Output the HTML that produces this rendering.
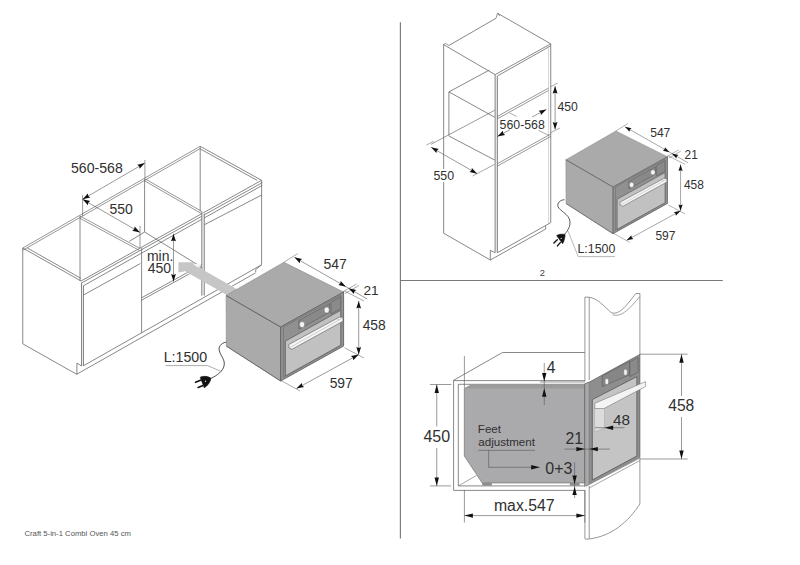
<!DOCTYPE html>
<html><head><meta charset="utf-8"><style>
html,body{margin:0;padding:0;background:#fff;width:800px;height:565px;overflow:hidden}
svg{display:block}
text{font-family:"Liberation Sans",sans-serif}
</style></head><body>
<svg width="800" height="565" viewBox="0 0 800 565">
<path d="M400.40,22.30 L400.40,538.50" stroke="#7a7a7a" stroke-width="1.15" fill="none" />
<path d="M400.40,280.50 L722.80,280.50" stroke="#7a7a7a" stroke-width="1.15" fill="none" />
<text x="539.74" y="276.2" font-size="9.3" fill="#444" text-anchor="start" >2</text>
<text x="24.51" y="535.93" font-size="7.7" fill="#555" text-anchor="start" >Craft 5-in-1 Combi Oven 45 cm</text>
<path d="M22.75,248.00 L200.20,146.30" stroke="#6a6a6a" stroke-width="0.7" fill="none" />
<path d="M22.75,250.30 L200.20,148.60" stroke="#6a6a6a" stroke-width="0.7" fill="none" />
<path d="M80.00,216.00 L139.50,248.20" stroke="#6a6a6a" stroke-width="0.7" fill="none" />
<path d="M80.00,218.30 L139.50,250.50" stroke="#6a6a6a" stroke-width="0.7" fill="none" />
<path d="M144.60,178.60 L201.50,211.30" stroke="#6a6a6a" stroke-width="0.7" fill="none" />
<path d="M144.60,180.90 L201.50,213.60" stroke="#6a6a6a" stroke-width="0.7" fill="none" />
<path d="M22.75,248.00 L81.00,281.00" stroke="#6a6a6a" stroke-width="0.8" fill="none" />
<path d="M27.35,248.00 L81.00,278.40" stroke="#6a6a6a" stroke-width="0.8" fill="none" />
<path d="M200.20,146.30 L261.60,180.30" stroke="#6a6a6a" stroke-width="0.8" fill="none" />
<path d="M200.20,148.90 L257.00,180.30" stroke="#6a6a6a" stroke-width="0.8" fill="none" />
<path d="M81.00,281.00 L261.60,180.30" stroke="#6a6a6a" stroke-width="0.8" fill="none" />
<path d="M81.00,283.30 L262.40,182.60" stroke="#6a6a6a" stroke-width="0.8" fill="none" />
<path d="M83.00,286.00 L262.40,185.30" stroke="#6a6a6a" stroke-width="0.8" fill="none" />
<path d="M80.00,216.00 L80.00,281.00" stroke="#6a6a6a" stroke-width="0.8" fill="none" />
<path d="M200.20,146.30 L200.20,211.30" stroke="#6a6a6a" stroke-width="0.8" fill="none" />
<path d="M144.60,178.60 L144.60,232.00" stroke="#6a6a6a" stroke-width="0.8" fill="none" />
<path d="M144.60,232.00 L129.30,241.40" stroke="#6a6a6a" stroke-width="0.8" fill="none" />
<path d="M144.60,232.00 L202.10,267.50" stroke="#6a6a6a" stroke-width="0.8" fill="none" />
<path d="M22.75,248.00 L22.75,343.80 L76.90,374.40 L76.90,363.10 L81.50,366.00" stroke="#6a6a6a" stroke-width="0.8" fill="none" />
<path d="M81.50,283.00 L83.50,286.00 L83.50,366.00 L81.50,366.00Z" fill="#ececec" stroke="none" stroke-width="0.8"/>
<path d="M81.50,283.00 L81.50,366.00" stroke="#6a6a6a" stroke-width="0.8" fill="none" />
<path d="M83.50,286.00 L83.50,366.00" stroke="#6a6a6a" stroke-width="0.8" fill="none" />
<path d="M83.50,295.00 L140.40,263.50" stroke="#6a6a6a" stroke-width="0.8" fill="none" />
<path d="M83.50,365.74 L261.90,264.59" stroke="#6a6a6a" stroke-width="0.8" fill="none" />
<path d="M76.90,374.18 L255.70,272.81" stroke="#6a6a6a" stroke-width="0.8" fill="none" />
<path d="M141.60,248.20 L141.60,332.80" stroke="#6a6a6a" stroke-width="0.8" fill="none" />
<path d="M141.60,297.80 L202.00,264.50" stroke="#6a6a6a" stroke-width="0.8" fill="none" />
<path d="M141.60,300.20 L202.00,266.90" stroke="#6a6a6a" stroke-width="0.8" fill="none" />
<path d="M201.80,211.30 L204.30,213.50 L204.30,295.60 L201.80,295.60Z" fill="#ececec" stroke="none" stroke-width="0.8"/>
<path d="M201.80,211.30 L201.80,295.60" stroke="#6a6a6a" stroke-width="0.8" fill="none" />
<path d="M204.30,213.50 L204.30,295.60" stroke="#6a6a6a" stroke-width="0.8" fill="none" />
<path d="M204.30,224.75 L261.90,194.90" stroke="#6a6a6a" stroke-width="0.8" fill="none" />
<path d="M261.60,180.30 L261.60,264.00" stroke="#6a6a6a" stroke-width="0.8" fill="none" />
<path d="M255.70,269.60 L255.70,272.10" stroke="#6a6a6a" stroke-width="0.8" fill="none" />
<path d="M255.70,269.60 L261.90,264.50" stroke="#6a6a6a" stroke-width="0.8" fill="none" />
<path d="M178.40,262.20 L193.80,262.20 L193.80,264.50 L245.00,293.80 L240.00,302.60 L184.20,270.70 L184.20,271.50 L178.40,272.60Z" fill="#c6c6c6" stroke="none" stroke-width="0.8"/>
<path d="M194.30,264.30 L198.80,263.60 L201.50,266.30 L197.00,267.30Z" fill="#f4f4f4" stroke="none" stroke-width="0.8"/>
<path d="M82.60,199.30 L144.90,163.00" stroke="#555" stroke-width="0.6" fill="none" />
<path d="M82.60,199.30 L87.87,193.45 L88.30,195.98 L90.29,197.60Z" fill="#111" stroke="none" stroke-width="0.8"/>
<path d="M144.90,163.00 L139.63,168.85 L139.20,166.32 L137.21,164.70Z" fill="#111" stroke="none" stroke-width="0.8"/>
<path d="M82.60,195.00 L82.60,216.00" stroke="#555" stroke-width="0.6" fill="none" />
<path d="M144.90,160.00 L144.90,178.00" stroke="#555" stroke-width="0.6" fill="none" />
<path d="M82.60,199.30 L140.00,232.40" stroke="#555" stroke-width="0.6" fill="none" />
<path d="M82.60,199.30 L90.30,200.97 L88.32,202.60 L87.90,205.13Z" fill="#111" stroke="none" stroke-width="0.8"/>
<path d="M140.00,232.40 L132.30,230.73 L134.28,229.10 L134.70,226.57Z" fill="#111" stroke="none" stroke-width="0.8"/>
<path d="M140.00,226.00 L140.00,248.00" stroke="#555" stroke-width="0.6" fill="none" />
<path d="M173.50,233.80 L173.50,281.60" stroke="#555" stroke-width="0.6" fill="none" />
<path d="M173.50,233.80 L175.90,241.30 L173.50,240.40 L171.10,241.30Z" fill="#111" stroke="none" stroke-width="0.8"/>
<path d="M173.50,281.60 L171.10,274.10 L173.50,275.00 L175.90,274.10Z" fill="#111" stroke="none" stroke-width="0.8"/>
<text x="71.04" y="173.17" font-size="14.1" fill="#303030" text-anchor="start" >560-568</text>
<text x="109.44" y="213.87" font-size="14" fill="#303030" text-anchor="start" >550</text>
<text x="146.88" y="261" font-size="14" fill="#303030" text-anchor="start" >min.</text>
<text x="147.68" y="272.62" font-size="14" fill="#303030" text-anchor="start" >450</text>
<path d="M283.90,262.25 L343.60,292.00 L280.60,327.00 L226.10,295.50Z" fill="#aaaaaa" stroke="#8a8a8a" stroke-width="0.6" stroke-linejoin="round"/>
<path d="M226.10,295.50 L280.60,327.00 L280.60,381.00 L226.30,346.10Z" fill="#aaaaaa" stroke="#8a8a8a" stroke-width="0.6" stroke-linejoin="round"/>
<path d="M226.10,295.50 L280.60,327.00 M226.30,346.10 L280.60,381.00" stroke="#555" stroke-width="0.75" fill="none"/>
<path d="M280.60,327.00 L343.60,292.00 L343.60,346.00 L280.60,381.00Z" fill="#939393" stroke="#555" stroke-width="0.8" stroke-linejoin="round"/>
<path d="M283.44,327.05 L340.77,295.19 L340.77,345.41 L283.44,377.26Z" fill="#919191" stroke="#6a6a6a" stroke-width="0.6" stroke-linejoin="round"/>
<path d="M298.87,320.63 L329.74,303.48 L329.74,312.12 L298.87,329.27Z" fill="#898989" stroke="#5a5a5a" stroke-width="0.6" stroke-linejoin="round"/>
<path d="M331.00,302.24 L340.77,296.81 L340.77,308.69 L331.00,314.12Z" fill="#8a8a8a" stroke="#5a5a5a" stroke-width="0.6" stroke-linejoin="round"/>
<path d="M285.39,341.08 L340.77,310.31 L340.77,345.14 L285.39,375.91Z" fill="#c1c1c1" stroke="#5e5e5e" stroke-width="0.8" stroke-linejoin="round"/>
<path d="M288.79,344.59 L339.19,317.13 L342.97,317.19 L342.97,321.24 L291.94,349.32 L288.79,347.83Z" fill="#f4f4f4" stroke="#6a6a6a" stroke-width="0.7" stroke-linejoin="round"/>
<path d="M288.79,347.83 L291.94,346.35 L342.97,317.73" stroke="#aaa" stroke-width="0.5" fill="none"/>
<path d="M336.36,318.97 L339.50,319.65" stroke="#aaa" stroke-width="0.5" fill="none"/>
<ellipse cx="302.08" cy="324.51" rx="2.6" ry="3.1" fill="#f4f4f4" stroke="#6a6a6a" stroke-width="0.5"/>
<ellipse cx="326.72" cy="310.02" rx="2.6" ry="3.1" fill="#f4f4f4" stroke="#6a6a6a" stroke-width="0.5"/>
<path d="M294.40,257.35 L346.00,286.75" stroke="#555" stroke-width="0.6" fill="none" />
<path d="M294.40,257.35 L302.10,258.98 L300.13,260.62 L299.73,263.15Z" fill="#111" stroke="none" stroke-width="0.8"/>
<path d="M346.00,286.75 L338.30,285.12 L340.27,283.48 L340.67,280.95Z" fill="#111" stroke="none" stroke-width="0.8"/>
<path d="M283.90,262.25 L297.90,253.50" stroke="#555" stroke-width="0.5" fill="none" />
<path d="M342.50,292.00 L356.50,284.10" stroke="#555" stroke-width="0.5" fill="none" />
<path d="M345.00,293.50 L359.00,285.50" stroke="#555" stroke-width="0.5" fill="none" />
<path d="M346.00,286.75 L367.20,299.00" stroke="#555" stroke-width="0.6" fill="none" />
<path d="M348.60,288.20 L356.29,289.89 L354.31,291.51 L353.88,294.04Z" fill="#111" stroke="none" stroke-width="0.8"/>
<path d="M358.70,300.90 L358.70,354.60" stroke="#555" stroke-width="0.6" fill="none" />
<path d="M358.70,300.90 L361.10,308.40 L358.70,307.50 L356.30,308.40Z" fill="#111" stroke="none" stroke-width="0.8"/>
<path d="M358.70,354.60 L356.30,347.10 L358.70,348.00 L361.10,347.10Z" fill="#111" stroke="none" stroke-width="0.8"/>
<path d="M344.50,291.00 L364.00,301.00" stroke="#555" stroke-width="0.5" fill="none" />
<path d="M344.50,347.80 L364.00,358.00" stroke="#555" stroke-width="0.5" fill="none" />
<path d="M296.40,388.60 L358.70,354.60" stroke="#555" stroke-width="0.6" fill="none" />
<path d="M296.40,388.60 L301.83,382.90 L302.19,385.44 L304.13,387.11Z" fill="#111" stroke="none" stroke-width="0.8"/>
<path d="M358.70,354.60 L353.27,360.30 L352.91,357.76 L350.97,356.09Z" fill="#111" stroke="none" stroke-width="0.8"/>
<path d="M281.00,380.50 L300.00,391.00" stroke="#555" stroke-width="0.5" fill="none" />
<text x="323.54" y="268.67" font-size="14" fill="#303030" text-anchor="start" >547</text>
<text x="363.42" y="295.2" font-size="13.7" fill="#303030" text-anchor="start" >21</text>
<text x="362.68" y="329.88" font-size="13.8" fill="#303030" text-anchor="start" >458</text>
<text x="329.64" y="388.37" font-size="13.9" fill="#303030" text-anchor="start" >597</text>
<path d="M226.3,342.1 C221,343 218,347 219.4,351 C220.5,356 225,359 224.2,365 C223.5,371 217,375.5 210.8,378.4" stroke="#222" stroke-width="0.8" fill="none"/>
<path d="M200.2,377.2 C203,375.8 208,376 210.9,378.2 C210.5,382 207.5,386 204.2,387.8 Z" fill="#111" stroke="#111" stroke-width="0.6" stroke-linejoin="round"/>
<circle cx="205.5" cy="381.2" r="0.7" fill="#ddd"/>
<path d="M195.50,382.20 L200.50,380.20" stroke="#111" stroke-width="1.6" fill="none" stroke-linecap="round"/>
<path d="M198.10,387.50 L202.50,385.70" stroke="#111" stroke-width="1.6" fill="none" stroke-linecap="round"/>
<text x="163.74" y="361.87" font-size="14.2" fill="#303030" text-anchor="start" >L:1500</text>
<path d="M165.50,365.60 L207.60,365.60 L221.30,371.50" stroke="#8a8a8a" stroke-width="0.7" fill="none" />
<path d="M448.80,45.50 L496.00,18.30" stroke="#6a6a6a" stroke-width="0.8" fill="none" />
<path d="M497.50,13.20 L550.75,43.85 L495.10,74.65 L443.50,44.60" stroke="#6a6a6a" stroke-width="0.8" fill="none" />
<path d="M496.00,18.30 L497.50,13.20 L499.70,16.00" stroke="#6a6a6a" stroke-width="0.7" fill="none" />
<path d="M443.50,44.60 L445.30,43.30 L448.80,45.50" stroke="#6a6a6a" stroke-width="0.7" fill="none" />
<path d="M497.40,76.00 L550.75,45.80" stroke="#6a6a6a" stroke-width="0.8" fill="none" />
<path d="M443.65,44.10 L443.65,233.20 L490.30,260.00 L490.30,250.30 L495.10,252.70" stroke="#6a6a6a" stroke-width="0.8" fill="none" />
<path d="M495.10,74.65 L497.40,76.20 L497.40,252.70 L495.10,252.70Z" fill="#ececec" stroke="none" stroke-width="0.8"/>
<path d="M495.10,74.65 L495.10,252.70" stroke="#6a6a6a" stroke-width="0.8" fill="none" />
<path d="M497.40,76.20 L497.40,252.70" stroke="#6a6a6a" stroke-width="0.8" fill="none" />
<path d="M550.75,43.85 L550.75,222.60" stroke="#6a6a6a" stroke-width="0.8" fill="none" />
<path d="M548.60,46.00 L548.60,223.70" stroke="#aaa" stroke-width="0.5" fill="none" />
<path d="M497.40,116.40 L548.60,88.00" stroke="#6a6a6a" stroke-width="0.7" fill="none" />
<path d="M497.40,118.80 L548.60,90.40" stroke="#6a6a6a" stroke-width="0.7" fill="none" />
<path d="M497.40,163.70 L550.75,134.00" stroke="#6a6a6a" stroke-width="0.7" fill="none" />
<path d="M497.40,166.10 L550.75,136.40" stroke="#6a6a6a" stroke-width="0.7" fill="none" />
<path d="M497.40,252.70 L550.75,222.60" stroke="#6a6a6a" stroke-width="0.8" fill="none" />
<path d="M490.30,260.00 L545.60,229.10" stroke="#6a6a6a" stroke-width="0.8" fill="none" />
<path d="M545.60,225.70 L545.60,229.10" stroke="#6a6a6a" stroke-width="0.8" fill="none" />
<path d="M448.90,91.90 L448.90,135.60" stroke="#6a6a6a" stroke-width="0.8" fill="none" />
<path d="M448.90,91.90 L494.75,117.25" stroke="#6a6a6a" stroke-width="0.8" fill="none" />
<path d="M448.90,91.90 L489.50,70.00" stroke="#6a6a6a" stroke-width="0.8" fill="none" />
<path d="M448.90,136.00 L494.75,160.10" stroke="#6a6a6a" stroke-width="0.8" fill="none" />
<path d="M430.90,144.40 L494.75,110.25" stroke="#555" stroke-width="0.6" fill="none" />
<text x="557.42" y="110.89" font-size="12.2" fill="#303030" text-anchor="start" >450</text>
<path d="M555.10,86.10 L555.10,129.50" stroke="#555" stroke-width="0.6" fill="none" />
<path d="M555.10,86.10 L557.50,93.60 L555.10,92.70 L552.70,93.60Z" fill="#111" stroke="none" stroke-width="0.8"/>
<path d="M555.10,129.50 L552.70,122.00 L555.10,122.90 L557.50,122.00Z" fill="#111" stroke="none" stroke-width="0.8"/>
<path d="M550.75,86.60 L557.75,83.00" stroke="#555" stroke-width="0.5" fill="none" />
<path d="M550.75,132.60 L560.00,128.00" stroke="#555" stroke-width="0.5" fill="none" />
<text x="499.61" y="128.79" font-size="12.3" fill="#303030" text-anchor="start" >560-568</text>
<path d="M497.40,136.50 L510.00,129.60" stroke="#555" stroke-width="0.6" fill="none" />
<path d="M532.00,117.00 L546.40,109.40" stroke="#555" stroke-width="0.6" fill="none" />
<path d="M497.40,136.50 L502.83,130.79 L503.19,133.33 L505.13,135.00Z" fill="#111" stroke="none" stroke-width="0.8"/>
<path d="M546.40,109.40 L540.89,115.02 L540.56,112.48 L538.65,110.78Z" fill="#111" stroke="none" stroke-width="0.8"/>
<path d="M509.60,112.90 L516.60,116.40" stroke="#555" stroke-width="0.5" fill="none" />
<path d="M538.50,130.40 L549.00,135.60" stroke="#555" stroke-width="0.5" fill="none" />
<text x="433.4" y="180.49" font-size="12.4" fill="#303030" text-anchor="start" stroke="#fff" stroke-width="4" paint-order="stroke" stroke-linejoin="round">550</text>
<path d="M431.10,147.30 L477.20,173.70" stroke="#555" stroke-width="0.6" fill="none" />
<path d="M431.10,147.30 L438.80,148.94 L436.83,150.58 L436.42,153.11Z" fill="#111" stroke="none" stroke-width="0.8"/>
<path d="M477.20,173.70 L469.50,172.06 L471.47,170.42 L471.88,167.89Z" fill="#111" stroke="none" stroke-width="0.8"/>
<path d="M426.50,145.00 L434.00,141.00" stroke="#555" stroke-width="0.5" fill="none" />
<path d="M472.50,176.00 L494.40,164.50" stroke="#555" stroke-width="0.5" fill="none" />
<g transform="translate(613,187) scale(0.865) translate(-280.6,-327)"><path d="M283.90,262.25 L343.60,292.00 L280.60,327.00 L226.10,295.50Z" fill="#aaaaaa" stroke="#8a8a8a" stroke-width="0.6" stroke-linejoin="round"/>
<path d="M226.10,295.50 L280.60,327.00 L280.60,381.00 L226.30,346.10Z" fill="#aaaaaa" stroke="#8a8a8a" stroke-width="0.6" stroke-linejoin="round"/>
<path d="M226.10,295.50 L280.60,327.00 M226.30,346.10 L280.60,381.00" stroke="#555" stroke-width="0.75" fill="none"/>
<path d="M280.60,327.00 L343.60,292.00 L343.60,346.00 L280.60,381.00Z" fill="#939393" stroke="#555" stroke-width="0.8" stroke-linejoin="round"/>
<path d="M283.44,327.05 L340.77,295.19 L340.77,345.41 L283.44,377.26Z" fill="#919191" stroke="#6a6a6a" stroke-width="0.6" stroke-linejoin="round"/>
<path d="M298.87,320.63 L329.74,303.48 L329.74,312.12 L298.87,329.27Z" fill="#898989" stroke="#5a5a5a" stroke-width="0.6" stroke-linejoin="round"/>
<path d="M331.00,302.24 L340.77,296.81 L340.77,308.69 L331.00,314.12Z" fill="#8a8a8a" stroke="#5a5a5a" stroke-width="0.6" stroke-linejoin="round"/>
<path d="M285.39,341.08 L340.77,310.31 L340.77,345.14 L285.39,375.91Z" fill="#c1c1c1" stroke="#5e5e5e" stroke-width="0.8" stroke-linejoin="round"/>
<path d="M288.79,344.59 L339.19,317.13 L342.97,317.19 L342.97,321.24 L291.94,349.32 L288.79,347.83Z" fill="#f4f4f4" stroke="#6a6a6a" stroke-width="0.7" stroke-linejoin="round"/>
<path d="M288.79,347.83 L291.94,346.35 L342.97,317.73" stroke="#aaa" stroke-width="0.5" fill="none"/>
<path d="M336.36,318.97 L339.50,319.65" stroke="#aaa" stroke-width="0.5" fill="none"/>
<ellipse cx="302.08" cy="324.51" rx="2.6" ry="3.1" fill="#f4f4f4" stroke="#6a6a6a" stroke-width="0.5"/>
<ellipse cx="326.72" cy="310.02" rx="2.6" ry="3.1" fill="#f4f4f4" stroke="#6a6a6a" stroke-width="0.5"/>
<path d="M294.40,257.35 L346.00,286.75" stroke="#555" stroke-width="0.6" fill="none" />
<path d="M294.40,257.35 L302.10,258.98 L300.13,260.62 L299.73,263.15Z" fill="#111" stroke="none" stroke-width="0.8"/>
<path d="M346.00,286.75 L338.30,285.12 L340.27,283.48 L340.67,280.95Z" fill="#111" stroke="none" stroke-width="0.8"/>
<path d="M283.90,262.25 L297.90,253.50" stroke="#555" stroke-width="0.5" fill="none" />
<path d="M342.50,292.00 L356.50,284.10" stroke="#555" stroke-width="0.5" fill="none" />
<path d="M345.00,293.50 L359.00,285.50" stroke="#555" stroke-width="0.5" fill="none" />
<path d="M346.00,286.75 L367.20,299.00" stroke="#555" stroke-width="0.6" fill="none" />
<path d="M348.60,288.20 L356.29,289.89 L354.31,291.51 L353.88,294.04Z" fill="#111" stroke="none" stroke-width="0.8"/>
<path d="M358.70,300.90 L358.70,354.60" stroke="#555" stroke-width="0.6" fill="none" />
<path d="M358.70,300.90 L361.10,308.40 L358.70,307.50 L356.30,308.40Z" fill="#111" stroke="none" stroke-width="0.8"/>
<path d="M358.70,354.60 L356.30,347.10 L358.70,348.00 L361.10,347.10Z" fill="#111" stroke="none" stroke-width="0.8"/>
<path d="M344.50,291.00 L364.00,301.00" stroke="#555" stroke-width="0.5" fill="none" />
<path d="M344.50,347.80 L364.00,358.00" stroke="#555" stroke-width="0.5" fill="none" />
<path d="M296.40,388.60 L358.70,354.60" stroke="#555" stroke-width="0.6" fill="none" />
<path d="M296.40,388.60 L301.83,382.90 L302.19,385.44 L304.13,387.11Z" fill="#111" stroke="none" stroke-width="0.8"/>
<path d="M358.70,354.60 L353.27,360.30 L352.91,357.76 L350.97,356.09Z" fill="#111" stroke="none" stroke-width="0.8"/>
<path d="M281.00,380.50 L300.00,391.00" stroke="#555" stroke-width="0.5" fill="none" />
<text x="323.54" y="268.67" font-size="14" fill="#303030" text-anchor="start" >547</text>
<text x="363.42" y="295.2" font-size="13.7" fill="#303030" text-anchor="start" >21</text>
<text x="362.68" y="329.88" font-size="13.8" fill="#303030" text-anchor="start" >458</text>
<text x="329.64" y="388.37" font-size="13.9" fill="#303030" text-anchor="start" >597</text></g>
<path d="M564.5,199.7 C560,200 557,203 558,206.5 C559.5,211 569,214 569.9,221 C570.5,226 568,231 564.5,234.1" stroke="#222" stroke-width="0.75" fill="none"/>
<path d="M556.6,235.6 C559,234 562.5,233.8 565.1,234.6 C565,238 564,241.5 562.6,243.7 Z" fill="#111" stroke="#111" stroke-width="0.6" stroke-linejoin="round"/>
<circle cx="561.2" cy="238.4" r="0.65" fill="#ddd"/>
<path d="M553.90,243.00 L557.30,239.80" stroke="#111" stroke-width="1.4" fill="none" stroke-linecap="round"/>
<path d="M557.40,245.90 L560.30,242.60" stroke="#111" stroke-width="1.4" fill="none" stroke-linecap="round"/>
<text x="577.48" y="253.19" font-size="12.4" fill="#303030" text-anchor="start" >L:1500</text>
<path d="M568.10,231.10 L578.20,256.60 L614.90,256.60" stroke="#999" stroke-width="0.7" fill="none" />
<path d="M453.60,380.30 L502.50,352.50 L584.90,352.50" stroke="#6a6a6a" stroke-width="0.8" fill="none" />
<path d="M453.60,380.30 L453.60,490.40 L584.90,490.40" stroke="#6a6a6a" stroke-width="0.8" fill="none" />
<path d="M458.30,384.30 L458.30,485.90 L584.90,485.90" stroke="#6a6a6a" stroke-width="0.8" fill="none" />
<path d="M453.60,380.60 L584.90,380.60" stroke="#6a6a6a" stroke-width="0.8" fill="none" />
<path d="M458.30,384.30 L584.90,384.30" stroke="#6a6a6a" stroke-width="0.8" fill="none" />
<path d="M464.30,388.60 L470.50,385.30 L584.90,385.30 L584.90,483.00 L482.20,483.00 L464.30,456.00Z" fill="#aaaaac" stroke="#666" stroke-width="0.6"/>
<path d="M464.30,388.60 L470.50,385.30 L584.90,385.30 L584.90,388.60Z" fill="#9c9c9c" stroke="none" stroke-width="0.8"/>
<path d="M458.30,485.90 L476.30,475.60" stroke="#6a6a6a" stroke-width="0.6" fill="none" />
<path d="M482.20,483.00 L491.80,483.00 L491.80,485.70 L482.20,485.70Z" fill="#8e8e8e" stroke="none" stroke-width="0.8"/>
<path d="M569.80,483.00 L579.60,483.00 L579.60,485.70 L569.80,485.70Z" fill="#8e8e8e" stroke="none" stroke-width="0.8"/>
<path d="M584.9,297 L589.2,297.3 C597,298 604,306 611.1,312.6 C620,316 628,303 635.9,293.5 L639.9,293.5 L639.9,354.4 L584.9,354.4 Z" fill="#fff" stroke="none"/>
<path d="M584.9,297 L589.2,297.3 C597,298 604,306 611.1,312.6 C620,316 628,303 635.9,293.5 L639.9,293.5 L639.9,354.4" stroke="#6a6a6a" stroke-width="0.7" fill="none"/>
<path d="M612.5,314.7 C622,318 631,307 639.9,296.5" stroke="#6a6a6a" stroke-width="0.6" fill="none"/>
<path d="M584.90,297.00 L584.90,381.50" stroke="#6a6a6a" stroke-width="0.7" fill="none" />
<path d="M589.20,297.30 L589.20,380.00" stroke="#6a6a6a" stroke-width="0.7" fill="none" />
<path d="M584.90,383.80 L589.20,382.20 L639.90,354.40 L639.90,457.50 L589.20,484.50 L584.90,486.60Z" fill="#8e8e8e" stroke="#555" stroke-width="0.7"/>
<path d="M584.90,383.80 L589.20,382.20 L589.20,484.50 L584.90,486.60Z" fill="#a9a9a9" stroke="#666" stroke-width="0.5"/>
<path d="M602.20,376.00 L629.50,361.20 L629.50,374.80 L602.20,386.60Z" fill="#868686" stroke="#5a5a5a" stroke-width="0.6"/>
<path d="M629.80,361.80 L638.10,357.40 L638.10,372.30 L629.80,376.60Z" fill="#8a8a8a" stroke="#5a5a5a" stroke-width="0.6"/>
<rect x="605.1" y="378.6" width="3.4" height="6" rx="1.5" fill="#f4f4f4" stroke="#777" stroke-width="0.5"/>
<rect x="623.8" y="369.3" width="3.4" height="6" rx="1.5" fill="#f4f4f4" stroke="#777" stroke-width="0.5"/>
<path d="M592.30,399.60 L636.90,376.60 L636.90,456.00 L592.30,480.00Z" fill="#c4c4c4" stroke="#5e5e5e" stroke-width="0.9"/>
<path d="M594.60,404.00 L604.50,399.00 L604.50,428.00 L594.60,432.00Z" fill="#dcdcdc" stroke="#999" stroke-width="0.4"/>
<path d="M594.80,403.30 L645.60,381.60 L645.60,386.50 L604.00,408.50 L594.80,408.50Z" fill="#f4f4f4" stroke="#777" stroke-width="0.6"/>
<path d="M584.9,486.6 L639.9,457.5 L639.9,504 C628,522 612,536 589.2,539 L584.9,539 Z" fill="#fff" stroke="none"/>
<path d="M586,486.2 L639.9,458 L639.9,504 C628,522 612,536 589.2,539 L584.9,539" stroke="#6a6a6a" stroke-width="0.7" fill="none"/>
<path d="M589.20,488.00 L639.90,460.50" stroke="#6a6a6a" stroke-width="0.6" fill="none" />
<path d="M584.90,490.40 L584.90,538.70" stroke="#6a6a6a" stroke-width="0.7" fill="none" />
<path d="M589.20,486.00 L589.20,538.70" stroke="#6a6a6a" stroke-width="0.7" fill="none" />
<path d="M639.90,354.20 L687.60,354.20" stroke="#555" stroke-width="0.6" fill="none" />
<path d="M639.90,459.00 L687.60,459.00" stroke="#555" stroke-width="0.6" fill="none" />
<path d="M681.50,354.20 L681.50,459.00" stroke="#555" stroke-width="0.6" fill="none" />
<path d="M681.50,354.20 L683.70,362.70 L681.50,362.70 L679.30,362.70Z" fill="#111" stroke="none" stroke-width="0.8"/>
<path d="M681.50,459.00 L679.30,450.50 L681.50,450.50 L683.70,450.50Z" fill="#111" stroke="none" stroke-width="0.8"/>
<rect x="667" y="396" width="28" height="21" fill="#fff"/>
<text x="668.24" y="411.16" font-size="15.6" fill="#303030" text-anchor="start" >458</text>
<path d="M430.00,384.50 L451.25,384.50" stroke="#555" stroke-width="0.6" fill="none" />
<path d="M430.00,485.90 L451.00,485.90" stroke="#555" stroke-width="0.6" fill="none" />
<path d="M436.75,384.50 L436.75,485.90" stroke="#555" stroke-width="0.6" fill="none" />
<path d="M436.75,384.50 L438.95,393.00 L436.75,393.00 L434.55,393.00Z" fill="#111" stroke="none" stroke-width="0.8"/>
<path d="M436.75,485.90 L434.55,477.40 L436.75,477.40 L438.95,477.40Z" fill="#111" stroke="none" stroke-width="0.8"/>
<rect x="422" y="426.4" width="30" height="21.6" fill="#fff"/>
<text x="423.38" y="441.86" font-size="16" fill="#303030" text-anchor="start" >450</text>
<path d="M540.00,382.00 L584.90,382.00" stroke="#555" stroke-width="0.6" fill="none" />
<path d="M544.25,363.00 L544.25,405.00" stroke="#555" stroke-width="0.6" fill="none" />
<path d="M544.25,381.50 L542.05,373.00 L544.25,373.00 L546.45,373.00Z" fill="#111" stroke="none" stroke-width="0.8"/>
<path d="M544.25,388.30 L546.45,396.80 L544.25,396.80 L542.05,396.80Z" fill="#111" stroke="none" stroke-width="0.8"/>
<text x="546.64" y="372.5" font-size="15.6" fill="#303030" text-anchor="start" >4</text>
<text x="477.8" y="433.4" font-size="11.6" fill="#303030" text-anchor="start" >Feet</text>
<text x="478.26" y="446.1" font-size="11.6" fill="#303030" text-anchor="start" >adjustment</text>
<path d="M478.00,450.30 L535.00,450.30" stroke="#555" stroke-width="0.6" fill="none" />
<path d="M488.60,450.30 L488.60,467.30 L539.70,467.30" stroke="#555" stroke-width="0.6" fill="none" />
<path d="M539.70,467.30 L531.20,469.50 L531.20,467.30 L531.20,465.10Z" fill="#111" stroke="none" stroke-width="0.8"/>
<text x="545.28" y="474.06" font-size="16" fill="#303030" text-anchor="start" >0+3</text>
<path d="M574.60,462.00 L574.60,498.00" stroke="#555" stroke-width="0.6" fill="none" />
<path d="M574.60,484.00 L572.40,475.50 L574.60,475.50 L576.80,475.50Z" fill="#111" stroke="none" stroke-width="0.8"/>
<path d="M574.60,486.60 L576.80,495.10 L574.60,495.10 L572.40,495.10Z" fill="#111" stroke="none" stroke-width="0.8"/>
<text x="565.51" y="444.2" font-size="15.8" fill="#303030" text-anchor="start" >21</text>
<path d="M564.50,449.10 L610.00,449.10" stroke="#555" stroke-width="0.6" fill="none" />
<path d="M584.90,449.10 L576.40,451.30 L576.40,449.10 L576.40,446.90Z" fill="#111" stroke="none" stroke-width="0.8"/>
<path d="M589.30,449.10 L597.80,446.90 L597.80,449.10 L597.80,451.30Z" fill="#111" stroke="none" stroke-width="0.8"/>
<text x="612.95" y="424.66" font-size="15.3" fill="#303030" text-anchor="start" >48</text>
<path d="M595.00,427.70 L624.50,427.70" stroke="#555" stroke-width="0.6" fill="none" />
<path d="M604.70,427.70 L613.20,425.50 L613.20,427.70 L613.20,429.90Z" fill="#111" stroke="none" stroke-width="0.8"/>
<text x="493.96" y="511.11" font-size="15.8" fill="#303030" text-anchor="start" >max.547</text>
<path d="M464.40,490.00 L464.40,522.50" stroke="#555" stroke-width="0.6" fill="none" />
<path d="M584.90,490.00 L584.90,522.50" stroke="#555" stroke-width="0.6" fill="none" />
<path d="M464.40,515.60 L584.90,515.60" stroke="#555" stroke-width="0.6" fill="none" />
<path d="M464.40,515.60 L472.90,513.40 L472.90,515.60 L472.90,517.80Z" fill="#111" stroke="none" stroke-width="0.8"/>
<path d="M584.90,515.60 L576.40,517.80 L576.40,515.60 L576.40,513.40Z" fill="#111" stroke="none" stroke-width="0.8"/>
<path d="M464.40,356.00 L464.40,388.00" stroke="#555" stroke-width="0.6" fill="none" />
</svg></body></html>
